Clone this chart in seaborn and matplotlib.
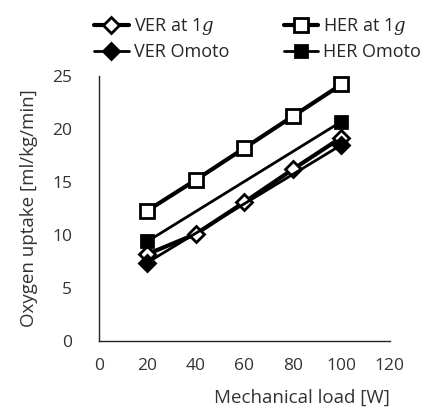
import numpy as np
import pandas as pd
import seaborn as sns
import matplotlib
matplotlib.use('Agg')
import matplotlib.pyplot as plt

# data
load_1g = [20, 40, 60, 80, 100]
ver_1g = [8.2, 10.1, 13.1, 16.2, 19.2]
her_1g = [12.3, 15.2, 18.2, 21.2, 24.2]
load_omoto = [20, 100]
ver_omoto = [7.4, 18.5]
her_omoto = [9.4, 20.7]

sns.set_style('white')
plt.rcParams['font.family'] = ['Open Sans', 'DejaVu Sans']
plt.rcParams['mathtext.fontset'] = 'dejavuserif'

fig = plt.figure(figsize=(4.21, 4.12), dpi=100)
ax = fig.add_axes([0.2345, 0.172, 0.6915, 0.6435])

# column-wise fill of the legend -> VER 1g, VER Omoto, HER 1g, HER Omoto
series = [
    ('VER at 1$g$', load_1g, ver_1g, 'D', 'white', 3.0, 8),
    ('VER Omoto', load_omoto, ver_omoto, 'D', 'black', 2.0, 8),
    ('HER at 1$g$', load_1g, her_1g, 's', 'white', 3.0, 10),
    ('HER Omoto', load_omoto, her_omoto, 's', 'black', 2.0, 9),
]
for name, xs, ys, mk, fc, lw, ms in series:
    df = pd.DataFrame({'load': xs, 'vo2': ys})
    sns.lineplot(data=df, x='load', y='vo2', ax=ax, color='black', lw=lw,
                 marker=mk, markersize=ms, markerfacecolor=fc,
                 markeredgecolor='black', markeredgewidth=2.0, label=name)

ax.set_xlim(0, 120)
ax.set_ylim(0, 25)
ax.set_xticks([0, 20, 40, 60, 80, 100, 120])
ax.set_yticks([0, 5, 10, 15, 20, 25])
for s in ['top', 'right']:
    ax.spines[s].set_visible(False)
for s in ['left', 'bottom']:
    ax.spines[s].set_color('#222222')
    ax.spines[s].set_linewidth(1.0)
ax.tick_params(axis='x', direction='in', length=5, width=1, color='#222222',
               labelsize=12.5, labelcolor='#333333', pad=12)
ax.tick_params(axis='y', length=0, labelsize=12.5, labelcolor='#333333', pad=19)
ax.set_xlabel('Mechanical load [W]', fontsize=13.5, color='#333333', loc='right', labelpad=11)
ax.set_ylabel('Oxygen uptake [ml/kg/min]', fontsize=13.5, color='#333333', labelpad=10)

ax.legend(loc='lower left', bbox_to_anchor=(-0.04, 1.03), ncol=2, frameon=False,
          fontsize=13, handlelength=1.9, handletextpad=0.3, columnspacing=3.0,
          labelspacing=0.3, borderaxespad=0)

fig.savefig('out.png', dpi=100)
